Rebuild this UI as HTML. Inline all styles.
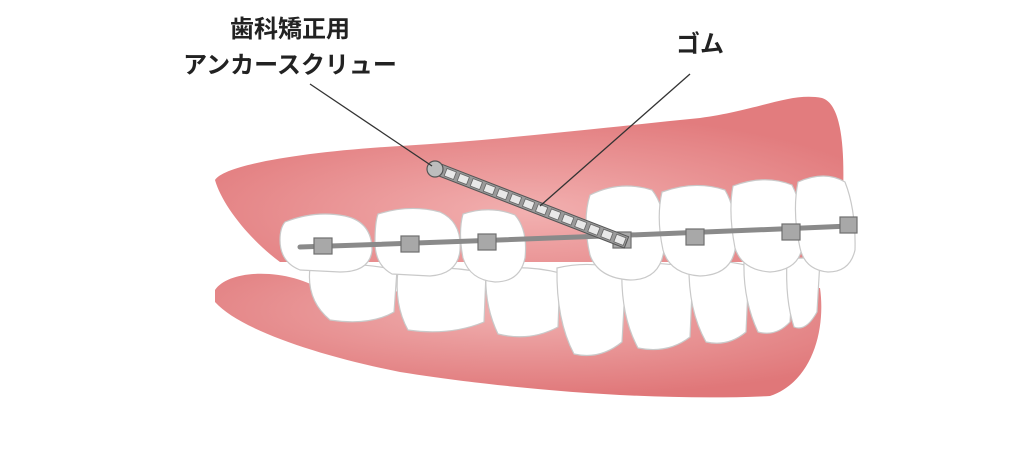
<!DOCTYPE html>
<html><head><meta charset="utf-8"><style>
html,body{margin:0;padding:0;background:#fff;width:1024px;height:452px;overflow:hidden}
text{font-family:"Liberation Sans","Noto Sans CJK JP",sans-serif;font-weight:bold}
</style></head><body>
<svg width="1024" height="452" viewBox="0 0 1024 452" xmlns="http://www.w3.org/2000/svg">
<defs>
<radialGradient id="g1" cx="0.5" cy="0.7" r="0.6"><stop offset="0" stop-color="#f2b0b0"/><stop offset="1" stop-color="#e27c7e"/></radialGradient>
<radialGradient id="g2" cx="0.5" cy="0.3" r="0.7"><stop offset="0" stop-color="#f0b0b0"/><stop offset="1" stop-color="#e07779"/></radialGradient>
</defs>
<path d="M215,180 C225,165 300,152 400,146 C500,140 600,128 700,118 C760,110 790,92 822,98 C842,104 846,150 842,215 L835,262 L280,262 C250,240 222,205 215,180 Z" fill="url(#g1)"/>
<path d="M215,290 C230,268 290,268 325,292 L820,288 C826,330 812,382 770,396 C650,402 500,388 400,372 C320,356 240,330 215,302 Z" fill="url(#g2)"/>
<g fill="#fff" stroke="#c9c9c9" stroke-width="1.2">
<path d="M310,268 Q350,260 397,270 L394,312 Q370,326 330,320 Q306,300 310,268Z"/>
<path d="M398,270 Q440,264 486,273 L484,322 Q450,336 408,330 Q394,305 398,270Z"/>
<path d="M486,270 Q525,264 560,273 L558,327 Q530,342 498,334 Q484,305 486,270Z"/>
<path d="M557,268 Q590,260 626,270 L622,342 Q600,360 574,354 Q556,320 557,268Z"/>
<path d="M622,266 Q655,260 693,268 L690,337 Q668,354 638,348 Q620,315 622,266Z"/>
<path d="M689,264 Q720,258 749,266 L746,332 Q728,347 706,342 Q688,310 689,264Z"/>
<path d="M744,262 Q770,258 794,264 L790,322 Q776,337 758,332 Q743,300 744,262Z"/>
<path d="M787,260 Q805,256 820,260 L817,312 Q806,332 794,327 Q785,300 787,260Z"/>
<path d="M285,222 Q315,210 345,216 Q372,222 372,250 Q370,272 340,272 L300,270 Q280,262 280,240 Q280,228 285,222Z"/>
<path d="M378,214 Q410,204 440,212 Q462,222 460,250 Q458,274 430,276 L392,274 Q375,265 375,242 Q375,222 378,214Z"/>
<path d="M463,214 Q490,205 515,215 Q528,230 525,258 Q520,282 495,282 Q470,280 463,258 Q458,232 463,214Z"/>
<path d="M590,195 Q620,180 652,190 Q668,210 664,250 Q660,280 630,280 Q598,278 590,255 Q582,220 590,195Z"/>
<path d="M662,192 Q695,180 725,190 Q738,212 735,250 Q730,275 700,276 Q670,274 663,250 Q656,218 662,192Z"/>
<path d="M733,186 Q765,174 792,185 Q805,210 802,248 Q798,270 770,272 Q742,270 735,248 Q728,212 733,186Z"/>
<path d="M798,182 Q825,170 845,182 Q856,210 855,250 Q850,272 828,272 Q805,270 800,248 Q792,212 798,182Z"/>
</g>
<path d="M300,247 Q570,238 850,226" fill="none" stroke="#8a8a8a" stroke-width="5" stroke-linecap="round"/>
<g fill="#a8a8a8" stroke="#6f6f6f" stroke-width="1.2">
<rect x="314" y="238" width="18" height="16"/>
<rect x="401" y="236" width="18" height="16"/>
<rect x="478" y="234" width="18" height="16"/>
<rect x="686" y="229" width="18" height="16"/>
<rect x="782" y="224" width="18" height="16"/>
<rect x="840" y="217" width="17" height="16"/>
<rect x="613" y="232" width="18" height="16"/>
</g>
<g transform="translate(440,170) rotate(21.2)">
<rect x="0" y="-6" width="200" height="12" fill="#9a9a9a" stroke="#555" stroke-width="1"/>
<g fill="#e8e8e8" stroke="#666" stroke-width="0.8">
<rect x="6" y="-4" width="10" height="8"/><rect x="20" y="-4" width="10" height="8"/><rect x="34" y="-4" width="10" height="8"/><rect x="48" y="-4" width="10" height="8"/><rect x="62" y="-4" width="10" height="8"/><rect x="76" y="-4" width="10" height="8"/><rect x="90" y="-4" width="10" height="8"/><rect x="104" y="-4" width="10" height="8"/><rect x="118" y="-4" width="10" height="8"/><rect x="132" y="-4" width="10" height="8"/><rect x="146" y="-4" width="10" height="8"/><rect x="160" y="-4" width="10" height="8"/><rect x="174" y="-4" width="10" height="8"/><rect x="188" y="-4" width="10" height="8"/>
</g></g>
<circle cx="435" cy="169" r="8" fill="#bdbdbd" stroke="#555" stroke-width="1.2"/>
<line x1="310" y1="84" x2="432" y2="166" stroke="#333" stroke-width="1.3"/>
<line x1="690" y1="74" x2="540" y2="206" stroke="#333" stroke-width="1.3"/>
<text x="290" y="37" font-size="24" text-anchor="middle" fill="#222">歯科矯正用</text>
<text x="290" y="73" font-size="24" text-anchor="middle" fill="#222">アンカースクリュー</text>
<text x="700" y="52" font-size="24" text-anchor="middle" fill="#222">ゴム</text>
</svg>
</body></html>
